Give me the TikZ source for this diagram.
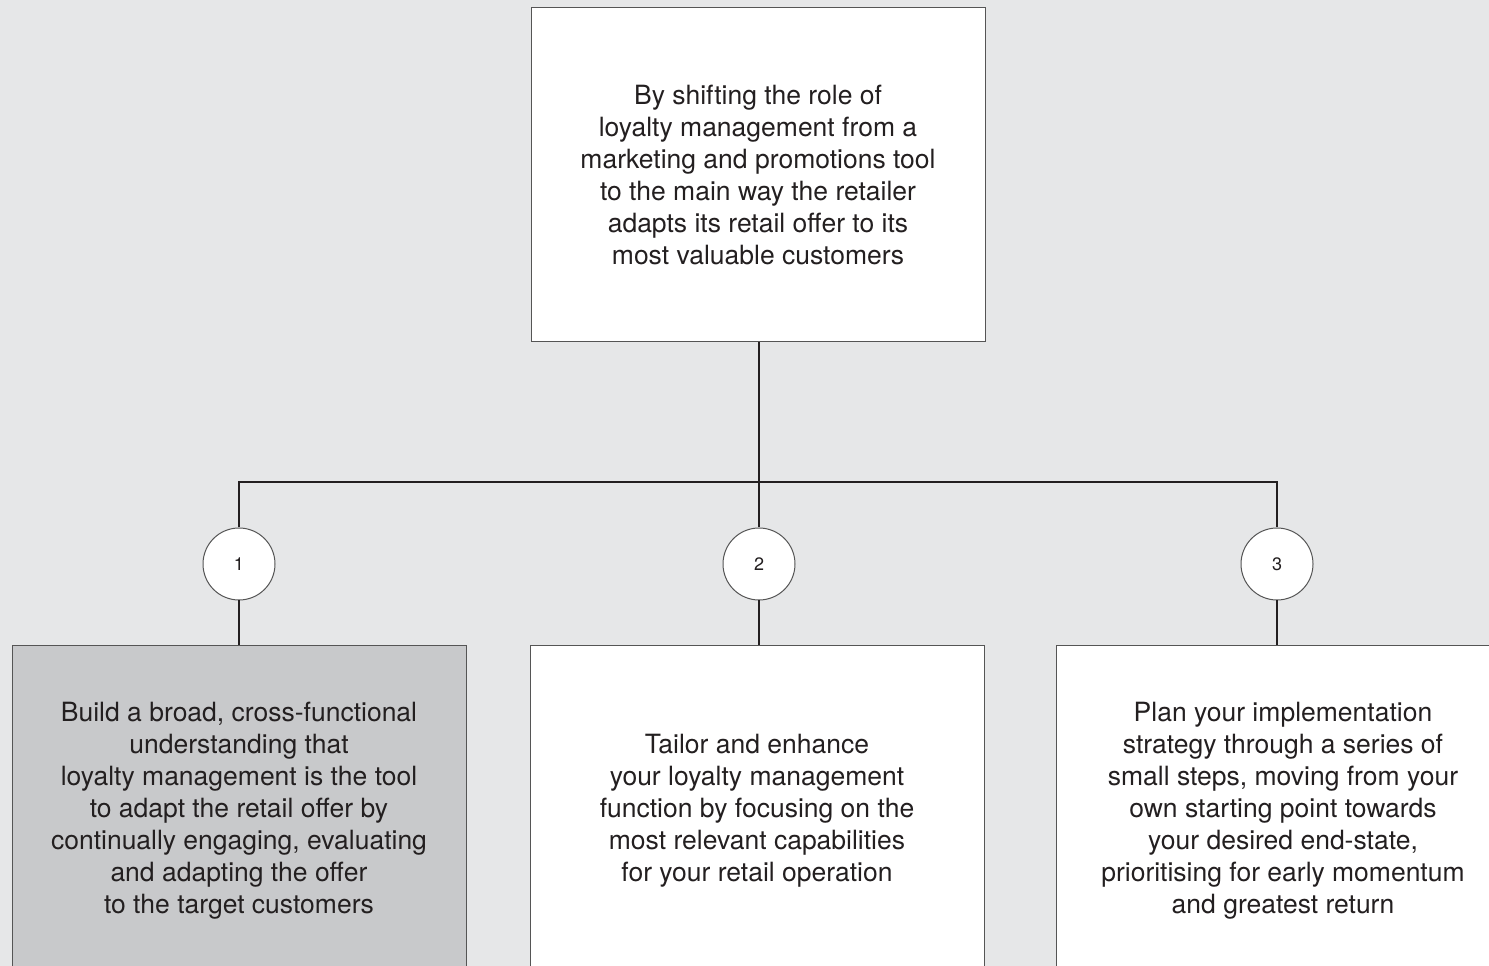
\documentclass[tikz,border=0pt]{standalone}
\usepackage{fontspec}
\setmainfont{TeX Gyre Heros}
\usepackage{tikz}
\definecolor{bgcol}{HTML}{E6E7E8}
\definecolor{shadecol}{HTML}{C8C9CB}
\definecolor{edgecol}{HTML}{555555}
\definecolor{linecol}{HTML}{231F20}

\begin{document}
\begin{tikzpicture}[x=1pt,y=1pt,
  box/.style={rectangle,draw=edgecol,line width=1pt,fill=white,minimum width=454pt,align=center,
    font=\fontsize{26.5}{32}\selectfont,text=linecol},
  num/.style={circle,draw=edgecol,line width=1pt,fill=white,minimum size=72pt,inner sep=0pt,
    font=\fontsize{18}{20}\selectfont,text=linecol},
  conn/.style={draw=linecol,line width=2pt}
]
\useasboundingbox (0,0) rectangle (1489,966);
\fill[bgcol] (0,0) rectangle (1489,966);
\clip (0,0) rectangle (1489,966);
% top statement
\node[box,minimum height=334pt] (top) at (758,791) {By shifting the role of\\loyalty management from a\\marketing and promotions tool\\to the main way the retailer\\adapts its retail offer to its\\most valuable customers};
% numbered levers
\node[num] (c1) at (239,402) {1};
\node[num] (c2) at (759,402) {2};
\node[num] (c3) at (1277,402) {3};
\coordinate (bar) at (759,484);
% bottom boxes
\node[box,minimum height=330pt,fill=shadecol] (b1) at (239,155) {Build a broad, cross-functional\\understanding that\\loyalty management is the tool\\to adapt the retail offer by\\continually engaging, evaluating\\and adapting the offer\\to the target customers};
\node[box,minimum height=330pt] (b2) at (757,155) {Tailor and enhance\\your loyalty management\\function by focusing on the\\most relevant capabilities\\for your retail operation};
\node[box,minimum height=330pt] (b3) at (1283,155) {Plan your implementation\\strategy through a series of\\small steps, moving from your\\own starting point towards\\your desired end-state,\\prioritising for early momentum\\and greatest return};
% connectors
\draw[conn] (top.south -| bar) -- (bar);
\draw[conn] (c1.north) |- (bar) -| (c3.north);
\draw[conn] (bar) -- (c2.north);
\draw[conn] (c1.south) -- (c1.south |- b1.north);
\draw[conn] (c2.south) -- (c2.south |- b2.north);
\draw[conn] (c3.south) -- (c3.south |- b3.north);
\end{tikzpicture}
\end{document}
